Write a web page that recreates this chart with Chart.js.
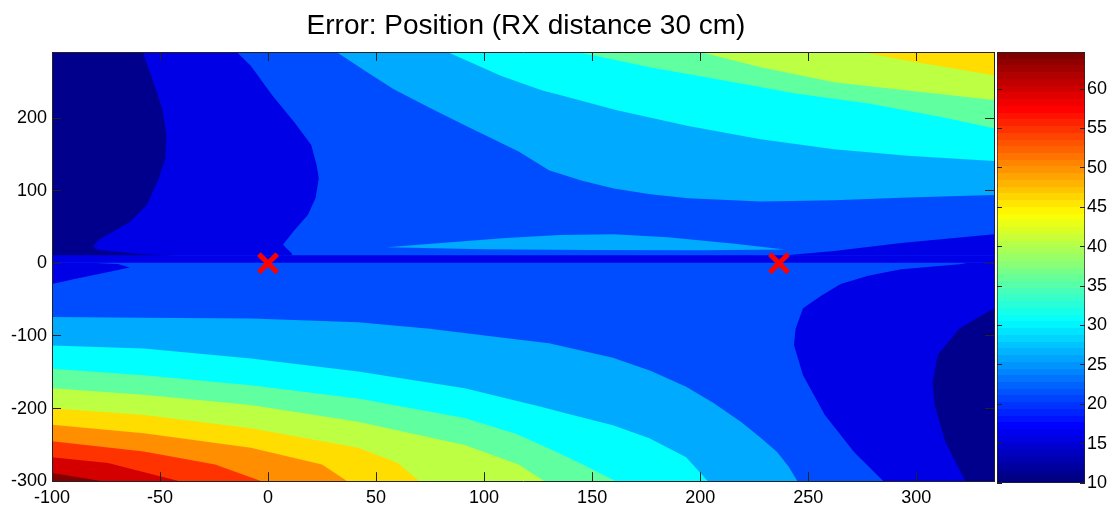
<!DOCTYPE html>
<html>
<head>
<meta charset="utf-8">
<title>Error: Position</title>
<script src="https://cdn.jsdelivr.net/npm/chart.js@4.4.1/dist/chart.umd.min.js"></script>
<style>
  body { margin: 0; background: #fff; }
  #wrap { position: relative; width: 1111px; height: 506px; }
  #main { position: absolute; left: 0; top: 0; }
  #cbar { position: absolute; left: 995px; top: 0; }
</style>
</head>
<body>
<div id="wrap">
  <canvas id="main" width="1052" height="506"></canvas>
  <canvas id="cbar" width="116" height="506"></canvas>
</div>
<script>
// Axis limits and ticks
var xLimits = [-100, 336];
var yLimits = [-300, 291];
var cLimits = [10, 64.7];
var xTicks = [-100, -50, 0, 50, 100, 150, 200, 250, 300];
var yTicks = [-300, -200, -100, 0, 100, 200];
var cTicks = [10, 15, 20, 25, 30, 35, 40, 45, 50, 55, 60];

// Red crosses
var markerX = [0, 236.5];
var markerY = [0, 0];

// Contour edges, as [x, y]
// upper right: from the top edge to the right edge
var topSky = [[31.7,291],[45,265],[58,240],[75,214],[91,190],[116,154],[130,128],[145,114],[160,103],[177,95],[194.5,89.6],[228,85],[262,87],[296,90.5],[336,94]];
var topCyan = [[83,291],[108,258],[127,238],[136,231],[161,211],[194.5,189],[228,171],[262,157],[296,148],[336,141]];
var topAqua = [[143,291],[176.6,270],[210.5,252],[244,234],[278,220],[312,201],[336,186]];
var topLime = [[200,291],[228,270],[262,249.5],[296,238],[336,225]];
var topYellow = [[274.6,291],[296,279],[336,259]];

// lower left: from the left edge to the bottom edge
var botSky = [[-100,-74],[-57.5,-75],[-8,-76],[41.7,-81],[74.7,-90],[107.8,-102],[130,-110],[159.6,-130],[177,-148],[193.5,-170],[206,-192],[218.8,-218],[228,-240],[235.7,-260],[241,-280],[245,-300]];
var botCyan = [[-100,-113],[-57.5,-117.4],[-8,-131],[41.7,-149],[91,-172],[125.8,-197],[140,-208],[159.6,-223],[176.5,-241],[193.5,-267],[203.6,-300]];
var botAqua = [[-100,-145],[-57.5,-154],[-8,-168],[41.7,-186],[91,-213],[115,-235],[130,-255],[145,-276],[161,-300]];
var botLime = [[-100,-172],[-57.5,-181],[-8,-195],[41.7,-218],[91,-250],[116,-277],[128,-300]];
var botYellow = [[-100,-199.5],[-57.5,-208.7],[-8,-227],[41.7,-254],[60,-275],[70,-300]];
var botOrange = [[-100,-222.4],[-57.5,-234],[-8,-254],[25,-277],[36.7,-300]];
var botRedOrange = [[-100,-245],[-57.5,-259],[-24.5,-277],[-3,-300]];
var botRed = [[-100,-267],[-74,-275],[-41,-300]];
var botDarkRed = [[-100,-288.6],[-76.5,-300]];

// upper left low region
var leftBlueEdge = [[-14.5,291],[-8,272],[2,231],[12,195],[20,163],[22.5,135],[23.5,117],[22,90],[18.5,67],[12,45],[7,26],[8,22],[11,14],[11,11],[-100,11]];
var leftNavyEdge = [[-58,291],[-53,249],[-49,213],[-47,176],[-47.5,145],[-50.5,117],[-56,81],[-63.5,58],[-70,46.5],[-78,33],[-81,24],[-79,19],[-74,17],[-58.6,12.7],[-29.5,8.2],[-58,7.2],[-100,6.8]];
var leftTongue = [[-100,0.8],[-80,0.5],[-69.5,-1],[-64,-5.6],[-75,-12.5],[-89.5,-21.6],[-100,-28.6]];

// thin strip along y = 0 and the pieces next to it
var stripY = [0.8, 11];
var sliver = [[55,22],[80,28],[110,35],[135,39],[160,40],[185,36],[216,27],[239,19],[200,18],[150,18.5],[100,19.5]];
var rightWedge = [[240,11],[262,17],[293,28],[336,40],[336,11]];

// lower right low region
var rightBlueEdge = [[336,0.8],[324,0.8],[320,-1.4],[293,-8],[277.7,-17],[265,-28.6],[256,-44.5],[247.6,-62],[244.2,-89.7],[243.4,-112.6],[247.6,-154],[257.7,-209],[271.3,-260],[284.8,-300]];
var rightNavyEdge = [[336,-62],[320,-89.7],[310,-126],[307.6,-163],[308.5,-195],[313.5,-246],[322.8,-300]];

var navy = '#00008C', blue = '#0000E6', midBlue = '#004DFF', sky = '#00AAFF', cyan = '#00FFFF',
    aqua = '#60FFA0', lime = '#BCFF43', yellow = '#FFDD00', orange = '#FF8F00',
    redOrange = '#FF3300', red = '#D40000', darkRed = '#820000';

var fontFamily = '"Liberation Sans", Arial, sans-serif';
var axisColor = '#222';

var TL = [xLimits[0], yLimits[1]], TR = [xLimits[1], yLimits[1]];
var BL = [xLimits[0], yLimits[0]], BR = [xLimits[1], yLimits[0]];

function pts(list) {
    return list.map(function (p) { return {x: p[0], y: p[1]}; });
}

// every filled region is a closed line, painted in list order
var layers = [];
function addLayer(list, color) {
    layers.push({
        data: pts(list),
        backgroundColor: color,
        borderWidth: 0,
        pointRadius: 0,
        tension: 0,
        fill: 'shape'
    });
}

addLayer([BL, TL, TR, BR], midBlue);

addLayer(topSky.concat([TR]), sky);
addLayer(topCyan.concat([TR]), cyan);
addLayer(topAqua.concat([TR]), aqua);
addLayer(topLime.concat([TR]), lime);
addLayer(topYellow.concat([TR]), yellow);

addLayer(botSky.concat([BL]), sky);
addLayer(botCyan.concat([BL]), cyan);
addLayer(botAqua.concat([BL]), aqua);
addLayer(botLime.concat([BL]), lime);
addLayer(botYellow.concat([BL]), yellow);
addLayer(botOrange.concat([BL]), orange);
addLayer(botRedOrange.concat([BL]), redOrange);
addLayer(botRed.concat([BL]), red);
addLayer(botDarkRed.concat([BL]), darkRed);

addLayer([TL].concat(leftBlueEdge), blue);
addLayer([TL].concat(leftNavyEdge), navy);

addLayer([[xLimits[0], stripY[0]], [xLimits[1], stripY[0]], [xLimits[1], stripY[1]], [xLimits[0], stripY[1]]], blue);
addLayer(sliver, sky);
addLayer(rightWedge, blue);

addLayer(rightBlueEdge.concat([BR]), blue);
addLayer(rightNavyEdge.concat([BR]), navy);
addLayer(leftTongue, blue);

// first layer drawn first, crosses last
layers.forEach(function (d, i) { d.order = layers.length - i; });

var markers = {
    data: markerX.map(function (x, i) { return {x: x, y: markerY[i]}; }),
    showLine: false,
    fill: false,
    pointStyle: 'crossRot',
    pointRadius: 13,
    pointBorderWidth: 5,
    pointBorderColor: '#FF0000',
    pointBackgroundColor: '#FF0000',
    order: 0
};

// ticks point inwards and sit above the filled regions
function edgeGrid(len) {
    return { drawOnChartArea: false, tickLength: len, color: axisColor, z: 1 };
}

function fixedTicks(values) {
    return function (s) { s.ticks = values.map(function (v) { return {value: v}; }); };
}

var tickFont = { family: fontFamily, size: 18 };
var edgeBorder = { color: axisColor, z: 1 };

new Chart(document.getElementById('main'), {
    type: 'line',
    data: { datasets: layers.concat([markers]) },
    options: {
        responsive: false,
        animation: false,
        events: [],
        layout: { padding: 0 },
        plugins: {
            legend: { display: false },
            tooltip: { enabled: false },
            title: {
                display: true,
                text: 'Error: Position (RX distance 30 cm)',
                color: '#000',
                font: { family: fontFamily, size: 28, weight: 'normal' },
                padding: { top: 9, bottom: 9.4 }
            }
        },
        scales: {
            x: {
                type: 'linear', position: 'bottom', min: xLimits[0], max: xLimits[1],
                afterBuildTicks: fixedTicks(xTicks),
                ticks: { padding: 15, color: '#000', font: tickFont, maxRotation: 0, autoSkip: false },
                grid: edgeGrid(-9),
                border: edgeBorder,
                afterFit: function (s) { s.height = 23; }
            },
            x2: {
                type: 'linear', position: 'top', min: xLimits[0], max: xLimits[1],
                afterBuildTicks: fixedTicks(xTicks),
                ticks: { display: false },
                grid: edgeGrid(-9),
                border: edgeBorder,
                afterFit: function (s) { s.height = 0; }
            },
            y: {
                type: 'linear', position: 'left', min: yLimits[0], max: yLimits[1],
                afterBuildTicks: fixedTicks(yTicks),
                ticks: { padding: 14, color: '#000', font: tickFont, autoSkip: false },
                grid: edgeGrid(-9),
                border: edgeBorder,
                afterFit: function (s) { s.width = 52; }
            },
            y2: {
                type: 'linear', position: 'right', min: yLimits[0], max: yLimits[1],
                afterBuildTicks: fixedTicks(yTicks),
                ticks: { display: false },
                grid: edgeGrid(-9),
                border: edgeBorder,
                afterFit: function (s) { s.width = 58; }
            }
        }
    }
});

// Colorbar: one floating bar painted with the 64 step jet map
function jetColor(t) {
    function ch(v) { return Math.round(255 * Math.max(0, Math.min(1, v))); }
    return 'rgb(' + ch(1.5 - Math.abs(4 * t - 3)) + ',' + ch(1.5 - Math.abs(4 * t - 2)) + ',' + ch(1.5 - Math.abs(4 * t - 1)) + ')';
}

function jetGradient(context) {
    var chart = context.chart;
    if (!chart.chartArea) return jetColor(0);
    var y = chart.scales.y;
    var g = chart.ctx.createLinearGradient(0, y.getPixelForValue(cLimits[0]), 0, y.getPixelForValue(cLimits[1]));
    for (var i = 0; i < 64; i++) {
        var c = jetColor(i / 63);
        g.addColorStop(i / 64, c);
        g.addColorStop((i + 1) / 64, c);
    }
    return g;
}

new Chart(document.getElementById('cbar'), {
    type: 'bar',
    data: {
        labels: [''],
        datasets: [{
            data: [cLimits.slice()],
            backgroundColor: jetGradient,
            borderColor: axisColor,
            borderWidth: 1,
            borderSkipped: false,
            barPercentage: 1,
            categoryPercentage: 1
        }]
    },
    options: {
        responsive: false,
        animation: false,
        events: [],
        layout: { padding: { top: 52, bottom: 23 } },
        plugins: { legend: { display: false }, tooltip: { enabled: false } },
        scales: {
            x: { display: false },
            y: {
                position: 'left', min: cLimits[0], max: cLimits[1],
                afterBuildTicks: fixedTicks(cTicks),
                ticks: { display: false },
                grid: edgeGrid(-5),
                border: { display: false },
                afterFit: function (s) { s.width = 2; }
            },
            y2: {
                position: 'right', min: cLimits[0], max: cLimits[1],
                afterBuildTicks: fixedTicks(cTicks),
                ticks: { padding: 7, color: '#000', font: tickFont, autoSkip: false },
                grid: edgeGrid(-5),
                border: { display: false },
                afterFit: function (s) { s.width = 26; }
            }
        }
    }
});
</script>
</body>
</html>
